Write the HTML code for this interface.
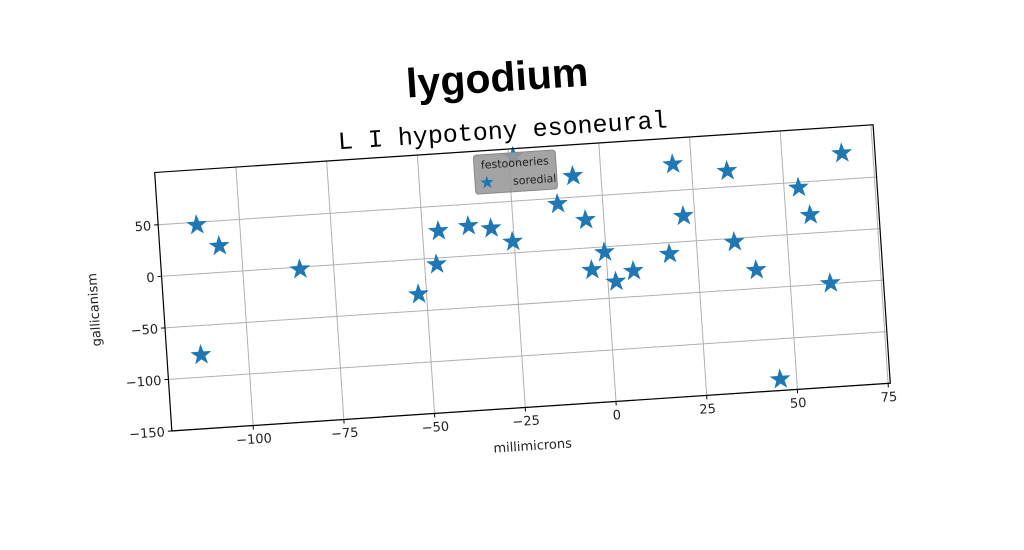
<!DOCTYPE html>
<html><head><meta charset="utf-8"><style>
html,body{margin:0;padding:0;background:#fff;width:1024px;height:512px;overflow:hidden}
#fig{position:absolute;left:0;top:0;width:1024px;height:512px;transform:rotate(-3.8deg);transform-origin:512px 256px}
svg text{font-family:"DejaVu Sans","Liberation Sans",sans-serif}
</style></head><body>
<div id="fig">
<svg id="chart" width="1024" height="512" xmlns="http://www.w3.org/2000/svg">
<text x="509" y="91" text-anchor="middle" font-family="Liberation Sans, sans-serif" font-weight="bold" font-size="41" fill="#000" style="font-family:'Liberation Sans',sans-serif">lygodium</text>
<text x="511" y="138" text-anchor="middle" font-size="25" fill="#000" style="font-family:'Liberation Mono',monospace">L I hypotony esoneural</text>
<g id="grid"></g>
<g id="marks"></g>
<rect x="161" y="149" width="720" height="259" fill="none" stroke="#000" stroke-width="1.2"/>
<g id="ticks"></g>
<text x="520" y="451" text-anchor="middle" font-size="13" fill="#222">millimicrons</text>
<text x="0" y="0" transform="translate(96,282) rotate(-90)" text-anchor="middle" font-size="13" fill="#222">gallicanism</text>
<g>
<rect x="480" y="153" width="82" height="39" rx="3" fill="#9a9a9a" fill-opacity="0.9" stroke="#888"/>
<text x="521" y="167" text-anchor="middle" font-size="11" fill="#222">festooneries</text>
<path id="legstar" fill="#1f77b4"/>
<text x="518" y="185" font-size="11" fill="#222">soredial</text>
</g>
</svg>
</div>
<script>
const xs = [-111.8,-106.0,-113.0,-84.3,-52.2,-46.7,-45.6,-37.3,-31.1,-25.4,-23.7,-12.4,-7.7,-5.0,-4.2,-0.4,2.2,7.2,19.9,21.9,17.4,34.7,35.4,40.9,45.5,54.0,56.7,61.0,66.5];
const ys = [47.3,25.6,-78.6,-2.1,-33.8,-6.1,26.0,28.9,25.2,10.9,93.0,44.5,70.5,27.2,-21.5,-5.2,-34.3,-25.1,75.4,24.8,-11.0,65.5,-3.6,-32.1,-139.2,44.8,17.6,-49.6,75.2];
const xTicks = [-100,-75,-50,-25,0,25,50,75];
const yTicks = [-150,-100,-50,0,50];
const xTickLabels = ['\u2212100','\u221275','\u221250','\u221225','0','25','50','75'];
const yTickLabels = ['\u2212150','\u2212100','\u221250','0','50'];

const L=161,T=149,W=720,H=259, XMIN=-122.4, XMAX=75.6, YMIN=-150, YMAX=100.7;
function sx(v){return L+(v-XMIN)/(XMAX-XMIN)*W;}
function sy(v){return T+H-(v-YMIN)/(YMAX-YMIN)*H;}
const NS='http://www.w3.org/2000/svg';
function starPath(cx,cy,R){const r=R*0.4;let d='';for(let i=0;i<10;i++){const a=-Math.PI/2+i*Math.PI/5;const rr=i%2?r:R;d+=(i?'L':'M')+(cx+rr*Math.cos(a)).toFixed(1)+','+(cy+rr*Math.sin(a)).toFixed(1);}return d+'Z';}
const grid=document.getElementById('grid'), ticks=document.getElementById('ticks'), marks=document.getElementById('marks');
xTicks.forEach((t,i)=>{
  const x=sx(t);
  const g=document.createElementNS(NS,'line');
  g.setAttribute('x1',x);g.setAttribute('x2',x);g.setAttribute('y1',T);g.setAttribute('y2',T+H);
  g.setAttribute('stroke','#b0b0b0');g.setAttribute('stroke-width','1');
  
  
  grid.appendChild(g);
  const tk=document.createElementNS(NS,'line');
  tk.setAttribute('x1',x);tk.setAttribute('x2',x);tk.setAttribute('y1',T+H);tk.setAttribute('y2',T+H+4);tk.setAttribute('stroke','#000');
  
  
  ticks.appendChild(tk);
  const tx=document.createElementNS(NS,'text');
  tx.setAttribute('x',x);tx.setAttribute('y',T+H+18);tx.setAttribute('text-anchor','middle');tx.setAttribute('font-size','13');tx.setAttribute('fill','#222');
  tx.textContent=xTickLabels[i];
  
  
  ticks.appendChild(tx);
});
yTicks.forEach((t,i)=>{
  const y=sy(t);
  const g=document.createElementNS(NS,'line');
  g.setAttribute('x1',L);g.setAttribute('x2',L+W);g.setAttribute('y1',y);g.setAttribute('y2',y);
  g.setAttribute('stroke','#b0b0b0');g.setAttribute('stroke-width','1');
  
  
  grid.appendChild(g);
  const tk=document.createElementNS(NS,'line');
  tk.setAttribute('x1',L-4);tk.setAttribute('x2',L);tk.setAttribute('y1',y);tk.setAttribute('y2',y);tk.setAttribute('stroke','#000');
  
  
  ticks.appendChild(tk);
  const tx=document.createElementNS(NS,'text');
  tx.setAttribute('x',L-7);tx.setAttribute('y',y+5);tx.setAttribute('text-anchor','end');tx.setAttribute('font-size','13');tx.setAttribute('fill','#222');
  tx.textContent=yTickLabels[i];
  
  
  ticks.appendChild(tx);
});
xs.forEach((v,i)=>{
  const p=document.createElementNS(NS,'path');
  p.setAttribute('d',starPath(sx(v),sy(ys[i]),11));
  p.setAttribute('fill','#1f77b4');
  
  
  marks.appendChild(p);
});
document.getElementById('legstar').setAttribute('d',starPath(492,181,7));
</script>
</body></html>
